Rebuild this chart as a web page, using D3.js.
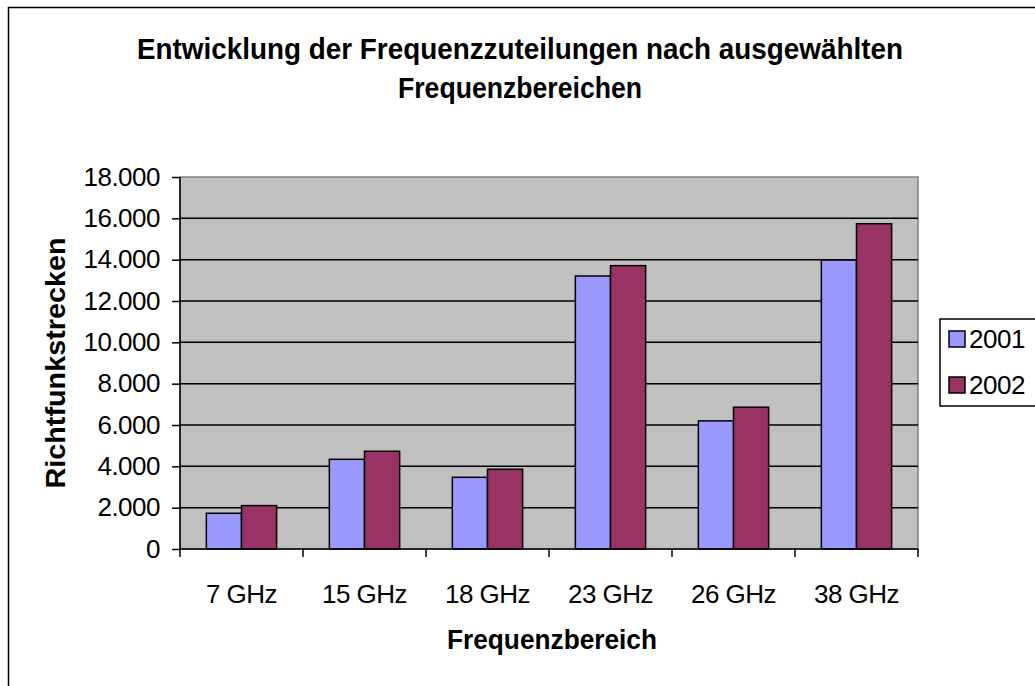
<!DOCTYPE html>
<html><head><meta charset="utf-8">
<script src="https://cdn.jsdelivr.net/npm/d3@7"></script>
<style>html,body{margin:0;padding:0;background:#fff;overflow:hidden}</style>
</head><body>
<svg id="chart" width="1035" height="686"></svg>
<script>
const categories = ["7 GHz","15 GHz","18 GHz","23 GHz","26 GHz","38 GHz"];
const seriesNames = ["2001","2002"];
const values2001 = [1730, 4340, 3470, 13210, 6200, 13980];
const values2002 = [2100, 4730, 3860, 13710, 6860, 15740];
const yTicks = [0,2000,4000,6000,8000,10000,12000,14000,16000,18000];
const colors = ["#9999FF","#993366"];

const svg = d3.select("#chart");
const font = "Liberation Sans, Arial, sans-serif";
const L = 180, R = 918, T = 177, B = 549;

svg.append("rect").attr("x",8.5).attr("y",7.5).attr("width",1100).attr("height",800)
  .attr("fill","#fff").attr("stroke","#000").attr("stroke-width",1.5);

const x = d3.scaleBand().domain(categories).range([L,R]).paddingInner(0).paddingOuter(0);
const y = d3.scaleLinear().domain([0,18000]).range([B,T]);

svg.append("rect").attr("x",L).attr("y",T).attr("width",R-L).attr("height",B-T)
  .attr("fill","#C0C0C0").attr("stroke","#808080").attr("stroke-width",1.5);

// gridlines
svg.append("g").selectAll("line").data(yTicks.filter(d=>d>0 && d<18000)).join("line")
  .attr("x1",L).attr("x2",R).attr("y1",d=>y(d)).attr("y2",d=>y(d))
  .attr("stroke","#000").attr("stroke-width",1.5);

// bars
const bw = x.bandwidth()/3.5;
const data = categories.map((c,i)=>({c, v:[values2001[i], values2002[i]]}));
const g = svg.append("g");
data.forEach(d=>{
  d.v.forEach((v,j)=>{
    const x0 = x(d.c) + x.bandwidth()*0.75/3.5 + j*bw;
    g.append("rect").attr("x",x0).attr("y",y(v)).attr("width",bw).attr("height",y(0)-y(v))
      .attr("fill",colors[j]).attr("stroke","#000").attr("stroke-width",1.5);
  });
});

// y axis
const yAxis = d3.axisLeft(y).tickValues(yTicks).tickSize(8).tickPadding(12)
  .tickFormat(d=>d3.format(",")(d).replace(/,/g,"."));
const ya = svg.append("g").attr("transform",`translate(${L},0)`).call(yAxis);
ya.select(".domain").attr("stroke","#000").attr("stroke-width",1.5).attr("d",`M0,${T}V${B}`);
ya.selectAll(".tick line").attr("stroke","#000").attr("stroke-width",1.5);
ya.selectAll("text").attr("font-family",font).attr("font-size",26).attr("fill","#000")
  .attr("letter-spacing",-0.5);

// x axis
const xAxis = d3.axisBottom(x).tickSize(0).tickPadding(36);
const xa = svg.append("g").attr("transform",`translate(0,${B})`).call(xAxis);
xa.select(".domain").attr("stroke","#000").attr("stroke-width",1.5).attr("d",`M${L},0H${R}`);
xa.selectAll("text").attr("font-family",font).attr("font-size",26).attr("fill","#000")
  .attr("letter-spacing",-0.5);
// category tick marks at band boundaries
const bounds = categories.map(c=>x(c)).concat([R]);
svg.append("g").selectAll("line").data(bounds).join("line")
  .attr("x1",d=>d).attr("x2",d=>d).attr("y1",B).attr("y2",B+8)
  .attr("stroke","#000").attr("stroke-width",1.5);

// titles
const title = svg.append("text").attr("text-anchor","middle").attr("font-family",font)
  .attr("font-weight","bold").attr("font-size",29).attr("fill","#000");
title.append("tspan").attr("x",520).attr("y",59).text("Entwicklung der Frequenzzuteilungen nach ausgewählten")
  .attr("textLength",766).attr("lengthAdjust","spacingAndGlyphs");
title.append("tspan").attr("x",520).attr("y",98).text("Frequenzbereichen")
  .attr("textLength",244).attr("lengthAdjust","spacingAndGlyphs");

svg.append("text").attr("x",552).attr("y",649).attr("text-anchor","middle")
  .attr("font-family",font).attr("font-weight","bold").attr("font-size",27)
  .attr("textLength",210).attr("lengthAdjust","spacingAndGlyphs").text("Frequenzbereich");

svg.append("text").attr("transform",`translate(65,${(T+B)/2}) rotate(-90)`).attr("text-anchor","middle")
  .attr("font-family",font).attr("font-weight","bold").attr("font-size",27)
  .attr("textLength",251).attr("lengthAdjust","spacingAndGlyphs").text("Richtfunkstrecken");

// legend
const lg = svg.append("g");
lg.append("rect").attr("x",940).attr("y",319).attr("width",120).attr("height",87)
  .attr("fill","#fff").attr("stroke","#000").attr("stroke-width",1.5);
seriesNames.forEach((s,i)=>{
  const yy = 331 + i*46;
  lg.append("rect").attr("x",949).attr("y",yy).attr("width",16).attr("height",16)
    .attr("fill",colors[i]).attr("stroke","#000").attr("stroke-width",1.5);
  lg.append("text").attr("x",969).attr("y",yy+17).attr("font-family",font).attr("font-size",26)
    .attr("letter-spacing",-0.5).attr("fill","#000").text(s);
});
</script>
</body></html>
